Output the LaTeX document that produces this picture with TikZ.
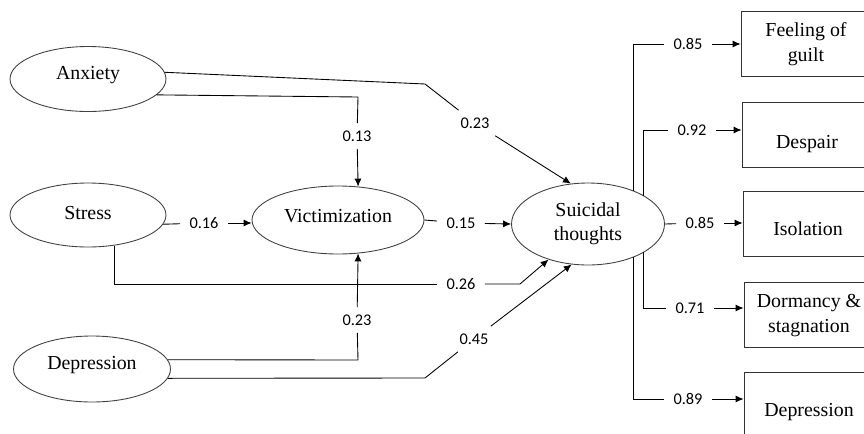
\documentclass[tikz,border=0pt]{standalone}
\usepackage{fontspec}
\setmainfont{Liberation Serif}
\newfontfamily\numfont{Carlito}
\usetikzlibrary{arrows.meta,shapes.geometric}
% text placed with its baseline at the node centre, moved down by #1
\newcommand{\sunk}[2]{\raisebox{-#1}[0pt][0pt]{\begin{tabular}[b]{@{}c@{}}#2\end{tabular}}}

\begin{document}
\begin{tikzpicture}[x=0.02cm,y=-0.02cm,line width=0.5pt,
	latent/.style={draw=black!75,ellipse,inner sep=0pt,
		font=\fontsize{11.3}{14}\selectfont},
	item/.style={draw=black!80,rectangle,inner sep=0pt,
		minimum width=2.6cm,minimum height=1.3cm,font=\fontsize{11.3}{14}\selectfont},
	coef/.style={inner xsep=0.18cm,inner ysep=0.14cm,font=\numfont\fontsize{9.3}{11}\selectfont},
	path/.style={-{Latex[length=4.5pt,width=4pt]}}]
	\useasboundingbox (0,0) rectangle (864,433);

	% latent variables
	\node[latent,minimum width=3.12cm,minimum height=1.3cm] (anx) at (88,79) {\sunk{0pt}{Anxiety}};
	\node[latent,minimum width=3.12cm,minimum height=1.28cm] (str) at (88,215) {\sunk{2.8pt}{Stress}};
	\node[latent,minimum width=3.44cm,minimum height=1.36cm] (vic) at (338,220) {\sunk{1.7pt}{Victimization}};
	\node[latent,minimum width=3.14cm,minimum height=1.32cm] (dep) at (92,369) {\sunk{0.5pt}{Depression}};
	\node[latent,minimum width=3.06cm,minimum height=1.64cm] (sui) at (588,224) {\sunk{9.5pt}{Suicidal\\thoughts}};

	% indicators
	\node[item] (gui) at (806,44) {\sunk{10pt}{Feeling of\\guilt}};
	\node[item] (des) at (807,135) {\sunk{7.4pt}{Despair}};
	\node[item] (iso) at (808,224) {\sunk{6.5pt}{Isolation}};
	\node[item] (dor) at (809,315) {\sunk{9.7pt}{Dormancy \&\\stagnation}};
	\node[item] (dpr) at (809,405) {\sunk{6.3pt}{Depression}};

	% coefficients
	\node[coef] (c013) at (357,136) {0.13};
	\node[coef] (c023a) at (475,123) {0.23};
	\node[coef] (c016) at (204,223) {0.16};
	\node[coef] (c015) at (461,223) {0.15};
	\node[coef] (c026) at (461,284) {0.26};
	\node[coef] (c023b) at (357,320) {0.23};
	\node[coef] (c045) at (474,339) {0.45};
	\node[coef] (c085a) at (688,44) {0.85};
	\node[coef] (c092) at (692,130) {0.92};
	\node[coef] (c085b) at (700,223) {0.85};
	\node[coef] (c071) at (690,308) {0.71};
	\node[coef] (c089) at (688,399) {0.89};

	% structural paths
	\draw (anx.5) -- (425,84) -- (c023a);
	\draw[path] (c023a) -- (sui.113);
	\draw (anx.-13) -- (358,97) -- (c013);
	\draw[path] (c013) -- (vic.59);
	\draw (str.-7) -- (c016);
	\draw[path] (c016) -- (c016 -| vic.west);
	\draw (vic.east) -- (c015);
	\draw[path] (c015) -- (sui.west);
	\draw (str.-49) |- (c026);
	\draw[path] (c026) -- (520,284) -- (sui.222);
	\draw (dep.7) -- (358,360) -- (c023b);
	\draw[path] (c023b) -- (vic.-59);
	\draw (dep.-7) -- (425,378) -- (c045);
	\draw[path] (c045) -- (sui.248);

	% measurement paths
	\draw (sui.36) |- (c085a);
	\draw[path] (c085a) -- (c085a -| gui.west);
	\draw (sui.27) |- (c092);
	\draw[path] (c092) -- (c092 -| des.west);
	\draw (sui.east) -- (c085b);
	\draw[path] (c085b) -- (c085b -| iso.west);
	\draw (sui.-27) |- (c071);
	\draw[path] (c071) -- (c071 -| dor.west);
	\draw (sui.-36) |- (c089);
	\draw[path] (c089) -- (c089 -| dpr.west);
\end{tikzpicture}
\end{document}
